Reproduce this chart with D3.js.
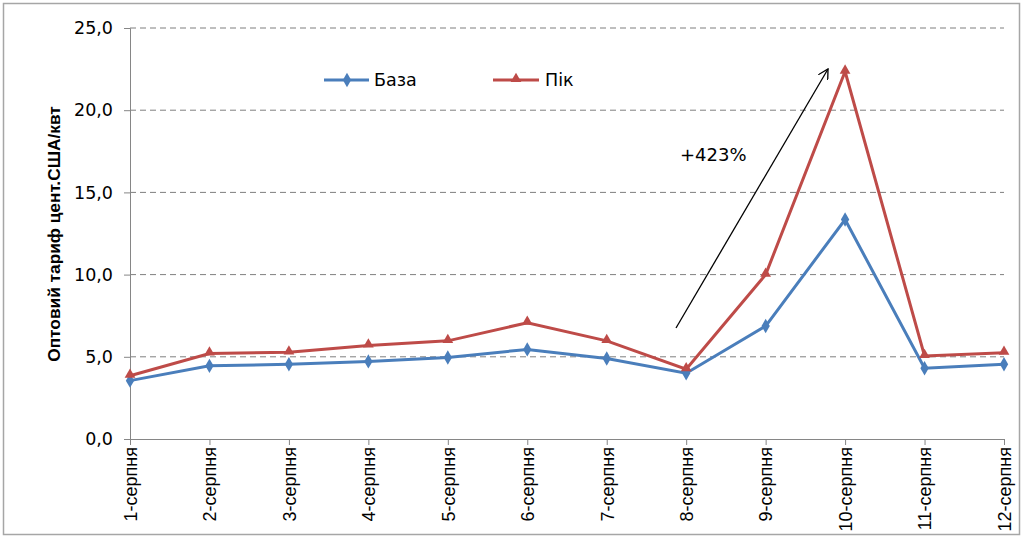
<!DOCTYPE html>
<html><head><meta charset="utf-8">
<script src="https://cdn.jsdelivr.net/npm/d3@7"></script>
<style>body{margin:0;background:#fff}svg{display:block}</style>
</head><body>
<svg id="c" width="1024" height="538"></svg>
<script>
const categories = ["1-серпня","2-серпня","3-серпня","4-серпня","5-серпня","6-серпня","7-серпня","8-серпня","9-серпня","10-серпня","11-серпня","12-серпня"];
const baseValues = [3.55,4.45,4.55,4.72,4.96,5.45,4.9,4.0,6.87,13.35,4.3,4.55];
const peakValues = [3.85,5.2,5.27,5.69,5.97,7.07,5.97,4.25,10.0,22.35,5.05,5.25];
const yTicks = [0,5,10,15,20,25];
const seriesNames = ["База","Пік"];
const annotationText = "+423%";
const yTitle = "Оптовий тариф цент.США/квт";

const svg = d3.select("#c");
svg.append("rect").attr("x",3.5).attr("y",3.5).attr("width",1016).attr("height",531)
  .attr("fill","#fff").attr("stroke","#a6a6a6").attr("stroke-width",1.5);

const L=130,R=1004,T=28,B=439;
const x = d3.scalePoint().domain(categories).range([L,R]);
const y = d3.scaleLinear().domain([0,25]).range([B,T]);

// gridlines
svg.append("g").selectAll("line").data(yTicks.filter(d=>d>0)).join("line")
  .attr("x1",L).attr("x2",R).attr("y1",d=>y(d)).attr("y2",d=>y(d))
  .attr("stroke","#7f7f7f").attr("stroke-width",1).attr("stroke-dasharray","6,4");

// y axis
const ya = svg.append("g").attr("transform",`translate(${L},0)`)
  .call(d3.axisLeft(y).tickValues(yTicks).tickSize(6).tickPadding(11)
    .tickFormat(d=>d3.format(".1f")(d).replace(".",",")));
ya.select(".domain").attr("stroke","#868686");
ya.selectAll(".tick line").attr("stroke","#868686");
ya.selectAll("text").style("font-family","DejaVu Sans, Verdana, sans-serif").style("font-size","17.5px").attr("fill","#000");

// x axis
const xa = svg.append("g").attr("transform",`translate(0,${B})`)
  .call(d3.axisBottom(x).tickSize(6).tickSizeOuter(0));
xa.select(".domain").attr("stroke","#868686");
xa.selectAll(".tick line").attr("stroke","#868686");
xa.selectAll("text").style("font-family","Liberation Sans, Arial, sans-serif").style("font-size","18px").attr("fill","#000")
  .attr("transform","rotate(-90)").attr("text-anchor","end").attr("dx","0").attr("dy","0.35em").attr("y",0).attr("x",-8);

// y title
svg.append("text").attr("transform",`translate(60,${234}) rotate(-90)`)
  .attr("text-anchor","middle").style("font-family","Liberation Sans, Arial, sans-serif")
  .attr("font-weight","bold").style("font-size","17.3px").text(yTitle);

const line = d3.line().x((d,i)=>x(categories[i])).y(d=>y(d));
const blue="#4a7ebb", red="#be4b48";

svg.append("path").datum(baseValues).attr("d",line).attr("fill","none").attr("stroke",blue).attr("stroke-width",3);
svg.append("path").datum(peakValues).attr("d",line).attr("fill","none").attr("stroke",red).attr("stroke-width",3);

const diamond = d3.symbol().type(d3.symbolDiamond).size(60);
const tri = d3.symbol().type(d3.symbolTriangle).size(50);
svg.append("g").selectAll("path").data(baseValues).join("path")
  .attr("d",diamond).attr("transform",(d,i)=>`translate(${x(categories[i])},${y(d)})`).attr("fill",blue);
svg.append("g").selectAll("path").data(peakValues).join("path")
  .attr("d",tri).attr("transform",(d,i)=>`translate(${x(categories[i])},${y(d)-1})`).attr("fill",red);

// legend
const lg = svg.append("g").style("font-family","DejaVu Sans, Verdana, sans-serif").style("font-size","17.5px");
lg.append("line").attr("x1",324).attr("x2",369).attr("y1",80).attr("y2",80).attr("stroke",blue).attr("stroke-width",3);
lg.append("path").attr("d",diamond).attr("transform","translate(347,80)").attr("fill",blue);
lg.append("text").attr("x",374).attr("y",86).text(seriesNames[0]);
lg.append("line").attr("x1",493).attr("x2",539).attr("y1",80).attr("y2",80).attr("stroke",red).attr("stroke-width",3);
lg.append("path").attr("d",tri).attr("transform","translate(516,79)").attr("fill",red);
lg.append("text").attr("x",545).attr("y",86).text(seriesNames[1]);

// arrow annotation
svg.append("defs").append("marker").attr("id","ah").attr("viewBox","0 0 10 10").attr("refX",9).attr("refY",5)
  .attr("markerWidth",11).attr("markerHeight",11).attr("orient","auto").attr("markerUnits","userSpaceOnUse")
  .append("path").attr("d","M0,0 L9,5 L0,10").attr("fill","none").attr("stroke","#000").attr("stroke-width",1.2);
svg.append("line").attr("x1",676).attr("y1",328).attr("x2",828).attr("y2",69)
  .attr("stroke","#000").attr("stroke-width",1.3).attr("marker-end","url(#ah)");
svg.append("text").attr("x",680).attr("y",161).style("font-family","DejaVu Sans, Verdana, sans-serif")
  .style("font-size","18px").text(annotationText);
</script>
</body></html>
